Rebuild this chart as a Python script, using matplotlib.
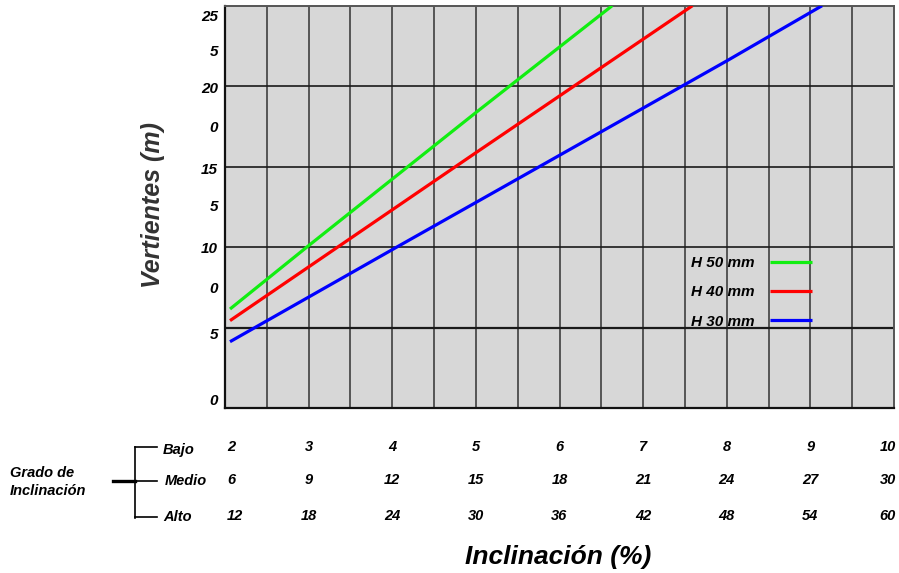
import matplotlib
matplotlib.use("Agg")
import matplotlib.pyplot as plt
import numpy as np
from matplotlib.lines import Line2D

plt.rcParams['font.family'] = ['Liberation Sans', 'DejaVu Sans']

# ---- data ----
x_green = [2.06, 3.0, 5.01, 6.63]
y_green = [6.15, 10.09, 18.4, 25.0]
x_red = [2.06, 5.01, 7.59]
y_red = [5.43, 15.9, 25.0]
x_blue = [2.06, 4.02, 6.49, 8.01, 9.14]
y_blue = [4.12, 9.9, 17.14, 21.6, 25.0]
series_labels = ["H 50 mm", "H 40 mm", "H 30 mm"]

bajo = ["2", "3", "4", "5", "6", "7", "8", "9", "10"]
medio = ["6", "9", "12", "15", "18", "21", "24", "27", "30"]
alto = ["12", "18", "24", "30", "36", "42", "48", "54", "60"]
row_names = ["Bajo", "Medio", "Alto"]
x_positions = [2, 3, 4, 5, 6, 7, 8, 9, 10]

ytick_pos = [24.4, 22.2, 19.9, 17.5, 14.9, 12.6, 10.0, 7.5, 4.6, 0.5]
ytick_labels = ["25", "5", "20", "0", "15", "5", "10", "0", "5", "0"]
hgrid = [5, 10, 15, 20]
vgrid = np.arange(2.5, 10.0, 0.5)

# ---- figure ----
W, H = 899, 573
fig = plt.figure(figsize=(W / 100, H / 100), dpi=100)
L, R, B, T = 225, 894, 408, 5.7
ax = fig.add_axes([L / W, 1 - B / H, (R - L) / W, (B - T) / H])
ax.set_facecolor('#d7d7d7')
ax.set_xlim(2, 10)
ax.set_ylim(0, 25)

for xv in vgrid:
    ax.axvline(xv, color='#555555', lw=1.4, zorder=1)
for yv in hgrid:
    ax.axhline(yv, color='#1a1a1a', lw=1.2 if yv != 5 else 1.6, zorder=1)

ax.plot(x_green, y_green, color='#11ee11', lw=2.3, label=series_labels[0], zorder=3, solid_capstyle='butt')
ax.plot(x_red, y_red, color='#ff0000', lw=2.3, label=series_labels[1], zorder=3, solid_capstyle='butt')
ax.plot(x_blue, y_blue, color='#0000ff', lw=2.3, label=series_labels[2], zorder=3, solid_capstyle='butt')

for s in ['left', 'bottom']:
    ax.spines[s].set_color('#111111')
    ax.spines[s].set_linewidth(1.6)
for s in ['top', 'right']:
    ax.spines[s].set_color('#555555')
    ax.spines[s].set_linewidth(1.4)

ax.set_xticks([])
ax.set_yticks(ytick_pos)
ax.set_yticklabels(ytick_labels, fontsize=11, fontweight='bold', fontstyle='italic')
ax.tick_params(axis='y', length=0, pad=5)

ax.set_ylabel("Vertientes (m)", fontsize=18, fontweight='bold', fontstyle='italic',
              color='#333333', labelpad=0)
ax.yaxis.set_label_coords((165 - L) / (R - L), (B - 205) / (B - T))

leg = ax.legend(loc='upper right', bbox_to_anchor=((812 - L) / (R - L), (B - 256) / (B - T)),
                frameon=False, markerfirst=False, borderpad=0, borderaxespad=0,
                handlelength=2.75, handletextpad=1.0, labelspacing=1.0,
                prop={'size': 11, 'weight': 'bold', 'style': 'italic'})

# ---- bottom table ----
def fx(px):
    return px / W

def fy(py):
    return 1 - py / H

rows = [bajo, medio, alto]
row_y = [447, 480, 516]
for vals, py in zip(rows, row_y):
    for i, (xv, v) in enumerate(zip(x_positions, vals)):
        px = L + (xv - 2) / 8 * (R - L)
        ha = 'center'
        if i == 0:
            ha = 'left'; px += 2
        elif i == len(vals) - 1:
            ha = 'right'; px += 2
        fig.text(fx(px), fy(py), v, ha=ha, va='center', fontsize=10.5,
                 fontweight='bold', fontstyle='italic')

row_lx = [163, 165, 163]
row_ly = [450, 481, 517]
for name, px, py in zip(row_names, row_lx, row_ly):
    fig.text(fx(px), fy(py), name, ha='left', va='center', fontsize=10.5,
             fontweight='bold', fontstyle='italic')

fig.text(fx(10), fy(473), "Grado de", ha='left', va='center', fontsize=10.5,
         fontweight='bold', fontstyle='italic')
fig.text(fx(10), fy(491), "Inclinación", ha='left', va='center', fontsize=10.5,
         fontweight='bold', fontstyle='italic')

# bracket
bx = 135
fig.add_artist(Line2D([fx(bx), fx(bx)], [fy(446.5), fy(517.5)], color='black', lw=1.2))
for py in [447, 481, 517]:
    fig.add_artist(Line2D([fx(bx), fx(157)], [fy(py), fy(py)], color='black', lw=1.2))
fig.add_artist(Line2D([fx(113), fx(bx)], [fy(481), fy(481)], color='black', lw=2.4))

fig.text(fx(558), fy(557), "Inclinación (%)", ha='center', va='center', fontsize=19,
         fontweight='bold', fontstyle='italic')

fig.savefig("out.png", dpi=100)
